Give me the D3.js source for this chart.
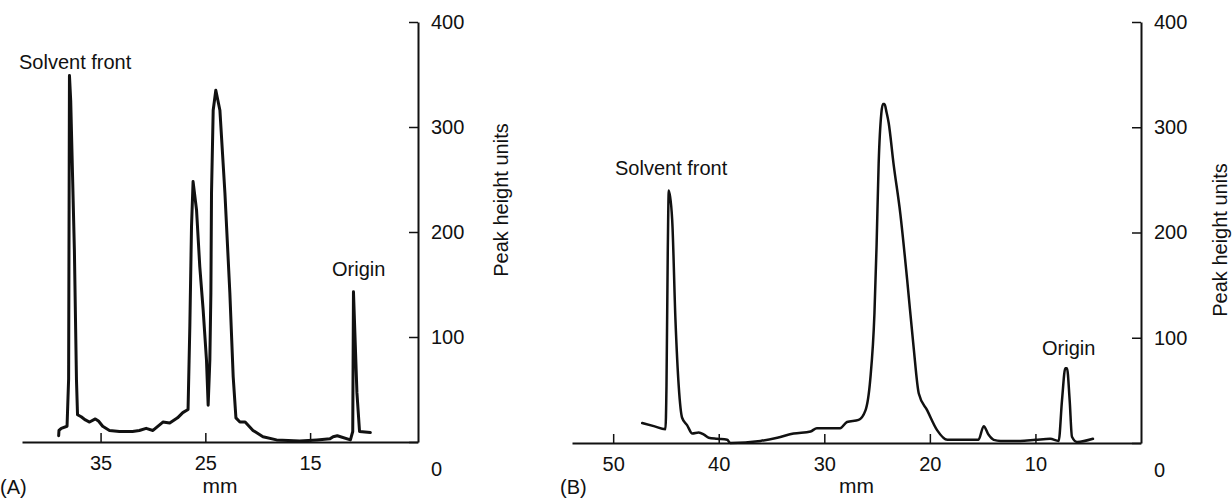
<!DOCTYPE html>
<html>
<head>
<meta charset="utf-8">
<script src="https://cdn.jsdelivr.net/npm/d3@7"></script>
<style>
  body { margin: 0; background: #fff; }
  svg text { font-family: "Liberation Sans", Arial, Helvetica, sans-serif; fill: #111; }
</style>
</head>
<body>
<div id="chart"></div>
<script>
// panel A: distance (mm) and peak height
var mmA = [39.0, 38.97, 38.75, 38.2, 38.05, 37.97, 37.85, 37.5, 37.3, 37.2, 36.85, 36.45, 36.05, 35.5, 35.2,
  34.8, 34.15, 33.2, 31.95, 31.3, 30.65, 30.0, 29.05, 28.4, 27.65, 27.15, 26.65, 26.48, 26.32, 26.17,
  25.84, 25.53, 25.21, 24.89, 24.73, 24.57, 24.47, 24.41, 24.25, 24.0, 23.61, 23.13, 22.66, 22.34, 22.08,
  21.7, 21.2, 20.45, 19.5, 18.2, 16.0, 14.35, 13.1, 12.8, 12.4, 11.15, 10.93, 10.86, 10.53, 10.28, 9.25]
var valA = [6, 11, 13, 15, 60, 349, 325, 183, 59, 26, 24, 21, 19, 22, 20,
  15, 11, 10, 10, 11, 13, 11, 19, 18, 23, 28, 31, 110, 205, 248,
  221, 167, 126, 78, 35, 78, 142, 237, 316, 335, 316, 237, 142, 62, 23,
  19, 19, 11, 5, 2, 1, 2, 3, 5, 6, 2, 10, 143, 47, 10, 9]

// panel B
var mmB = [47.25, 46.15, 45.05, 44.95, 44.83, 44.73, 44.41, 44.1, 43.79, 43.47, 43.0, 42.5, 41.9, 41.4, 40.95,
  40.15, 39.2, 38.9, 36.05, 34.45, 32.9, 31.3, 30.7, 28.5, 27.85, 26.75, 26.1, 25.65, 25.25, 25.05,
  24.85, 24.6, 24.45, 24.3, 24.1, 23.9, 23.45, 22.8, 22.15, 21.55, 21.05, 20.25, 19.3, 18.35, 16.15, 15.4, 14.9,
  14.45, 13.95, 13.3, 11.45, 10.0, 8.6, 7.8, 7.48, 7.17, 7.01, 6.76, 6.54, 6.05, 4.55]
var valB = [19, 16, 13, 54, 180, 240, 212, 117, 54, 24, 17, 9, 10, 8, 5,
  4, 3, 0, 2, 5, 9, 11, 14, 14, 20, 22, 31, 60, 123, 187,
  266, 313, 322, 322, 314, 304, 266, 218, 155, 92, 47, 31, 12, 3, 3, 3, 16,
  8, 3, 2, 2, 3, 4, 2, 41, 71, 71, 41, 6, 1, 4]

var ticksA = [35, 25, 15]
var ticksB = [50, 40, 30, 20, 10]
var yTicks = [0, 100, 200, 300, 400]

var svg = d3.select("#chart").append("svg")
  .attr("width", 1232)
  .attr("height", 500)

function panel(opt) {
  var x = d3.scaleLinear().domain(opt.xdom).range(opt.xr)
  var y = d3.scaleLinear().domain([0, 400]).range(opt.yr)

  // x axis, ticks pointing up
  var gx = svg.append("g")
    .attr("transform", "translate(0," + opt.yr[0] + ")")
    .call(d3.axisBottom(x).tickValues(opt.ticks).tickSize(-9).tickSizeOuter(0).tickPadding(14))
  gx.select(".domain").attr("stroke", "#111").attr("stroke-width", 2)
  gx.selectAll(".tick line").attr("stroke", "#111").attr("stroke-width", 1.5)
  gx.selectAll("text").style("font-size", "20px")

  // y axis on the right
  var gy = svg.append("g")
    .attr("transform", "translate(" + opt.xr[1] + ",0)")
    .call(d3.axisRight(y).tickValues(yTicks).tickSize(-9).tickSizeOuter(0).tickPadding(13))
  gy.select(".domain").attr("stroke", "#111").attr("stroke-width", 2)
  gy.selectAll(".tick line").attr("stroke", "#111").attr("stroke-width", 1.5)
  gy.selectAll("text").style("font-size", "20px")
  // the 0 sits down with the x labels
  gy.selectAll(".tick").filter(function(d) { return d === 0 })
    .select("text").attr("dy", "0.32em").attr("y", 27)

  var line = d3.line()
    .curve(opt.curve)
    .x(function(d) { return x(d[0]) })
    .y(function(d) { return y(d[1]) })

  svg.append("path")
    .datum(d3.zip(opt.mm, opt.val))
    .attr("fill", "none")
    .attr("stroke", "#111")
    .attr("stroke-width", opt.sw)
    .attr("stroke-linejoin", "round")
    .attr("stroke-linecap", "round")
    .attr("d", line)

  svg.append("text")
    .attr("x", (opt.xr[0] + opt.xr[1]) / 2)
    .attr("y", 493)
    .attr("text-anchor", "middle")
    .style("font-size", "21px")
    .text("mm")

  svg.append("text")
    .attr("x", opt.panelX)
    .attr("y", 494)
    .style("font-size", "20px")
    .text(opt.name)

  svg.append("text")
    .attr("transform", "translate(" + opt.ylabX + "," + opt.ylabY + ") rotate(-90)")
    .attr("text-anchor", "middle")
    .style("font-size", "20px")
    .text("Peak height units")

  opt.notes.forEach(function(n) {
    svg.append("text")
      .attr("x", n.x)
      .attr("y", n.y)
      .style("font-size", "20px")
      .text(n.t)
  })
}

panel({
  xdom: [42.5, 4.7], xr: [22, 418], yr: [442, 22],
  ticks: ticksA, mm: mmA, val: valA, sw: 3, curve: d3.curveLinear,
  name: "(A)", panelX: 0, ylabX: 508, ylabY: 200,
  notes: [{t: "Solvent front", x: 19, y: 69}, {t: "Origin", x: 332, y: 276}]
})

panel({
  xdom: [53.9, 0], xr: [572, 1141], yr: [443, 22],
  ticks: ticksB, mm: mmB, val: valB, sw: 2.5, curve: d3.curveMonotoneX,
  name: "(B)", panelX: 560, ylabX: 1227, ylabY: 240,
  notes: [{t: "Solvent front", x: 615, y: 175}, {t: "Origin", x: 1042, y: 355}]
})
</script>
</body>
</html>
